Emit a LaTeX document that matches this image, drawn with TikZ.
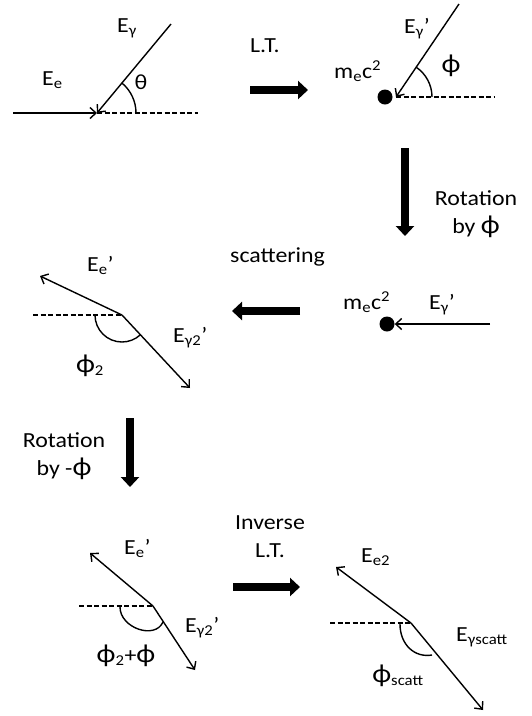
\documentclass[tikz,border=0pt]{standalone}
\usepackage{fontspec}
\setmainfont{Carlito}[FakeStretch=1.11]
\usetikzlibrary{arrows.meta,positioning,angles}
\newcommand{\phisym}{{\fontsize{26}{28}\selectfont ϕ}}

\begin{document}
\begin{tikzpicture}[x=1pt, y=-1pt,
    lbl/.style={font=\fontsize{21.5}{28}\selectfont, inner sep=0pt},
    ray/.style={line width=1.4pt, -{Straight Barb[length=6pt,width=11pt]}},
    guide/.style={line width=1.4pt, dash pattern=on 5pt off 2.5pt},
    angarc/.style={line width=1.4pt},
    bigarrow/.style={line width=8pt, -{Triangle[length=10pt,width=18pt]}},
    particle/.style={circle, fill=black, inner sep=0pt, minimum size=15pt}]
        \useasboundingbox (0,0) rectangle (532,716);
        % incoming electron and photon
        \coordinate (v1) at (97,113);
        \coordinate (e1) at (13,113);
        \coordinate (g1) at (171,24);
        \coordinate (d1) at (198,113);
        \draw[ray] (e1) -- (v1);
        \draw[ray] (g1) -- (v1);
        \draw[guide] (v1) -- (d1);
        \pic[angarc, draw, angle radius=39pt] {angle = d1--v1--g1};
        \node[lbl, anchor=base west] (ee1) at (42,85) {E\textsubscript{e}};
        \node[lbl, anchor=base west] (eg1) at (117,32) {E\textsubscript{γ}};
        \node[lbl] (th1) at (141,82) {θ};
        % L.T.
        \coordinate (lta) at (250,90);
        \coordinate (ltb) at (308,90);
        \draw[bigarrow] (lta) -- (ltb);
        \node[lbl, anchor=base west] (lt) at (250,52) {L.T.};
        % electron rest frame
        \node[particle] (dot2) at (385,97) {};
        \coordinate (v2) at (396,97);
        \coordinate (g2) at (459,4);
        \coordinate (d2) at (495,97);
        \draw[ray] (g2) -- (v2);
        \draw[guide] (v2) -- (d2);
        \pic[angarc, draw, angle radius=36pt] {angle = d2--v2--g2};
        \node[lbl, anchor=base west] (m2) at (334,78) {m\textsubscript{e}c\textsuperscript{2}};
        \node[lbl, anchor=base west] (eg2) at (404,33) {E\textsubscript{γ}’};
        \node[lbl] (ph2) at (451,66) {\phisym};
        % rotation by phi
        \coordinate (rta) at (405,148);
        \coordinate (rtb) at (405,236);
        \draw[bigarrow] (rta) -- (rtb);
        \node[lbl, align=center] (rot1) at (476,214) {Rotation\\by \phisym};
        % head-on
        \node[particle] (dot3) at (387,324) {};
        \coordinate (g3) at (490,324);
        \draw[ray] (g3) -- (dot3);
        \node[lbl, anchor=base west] (m3) at (343,309) {m\textsubscript{e}c\textsuperscript{2}};
        \node[lbl, anchor=base west] (eg3) at (429,309) {E\textsubscript{γ}’};
        % scattering
        \coordinate (sca) at (300,311);
        \coordinate (scb) at (232,311);
        \draw[bigarrow] (sca) -- (scb);
        \node[lbl, anchor=base west] (sc) at (230,262) {scattering};
        % after scattering
        \coordinate (v4) at (122,315);
        \coordinate (d4) at (33,315);
        \coordinate (e4) at (40,276);
        \coordinate (g4) at (190,388);
        \draw[ray] (v4) -- (e4);
        \draw[ray] (v4) -- (g4);
        \draw[guide] (d4) -- (v4);
        \pic[angarc, draw, angle radius=27pt] {angle = d4--v4--g4};
        \node[lbl, anchor=base west] (ee4) at (87,271) {E\textsubscript{e}’};
        \node[lbl, anchor=base west] (eg4) at (173,342) {E\textsubscript{γ2}’};
        \node[lbl] (ph4) at (90,366) {\phisym\textsubscript{2}};
        % rotation by -phi
        \coordinate (rua) at (130,418);
        \coordinate (rub) at (130,487);
        \draw[bigarrow] (rua) -- (rub);
        \node[lbl, align=center] (rot2) at (64,456) {Rotation\\by -\phisym};
        % rotated back
        \coordinate (v5) at (153,606);
        \coordinate (d5) at (79,606);
        \coordinate (e5) at (90,553);
        \coordinate (g5) at (195,670);
        \draw[ray] (v5) -- (e5);
        \draw[ray] (v5) -- (g5);
        \draw[guide] (d5) -- (v5);
        \draw[angarc] (120,607) .. controls (120,628) and (155,640) .. (163,622);
        \node[lbl, anchor=base west] (ee5) at (124,554) {E\textsubscript{e}’};
        \node[lbl, anchor=base west] (eg5) at (185,632) {E\textsubscript{γ2}’};
        \node[lbl] (ph5) at (126,656) {\phisym\textsubscript{2}+\phisym};
        % inverse L.T.
        \coordinate (ila) at (233,587);
        \coordinate (ilb) at (300,587);
        \draw[bigarrow] (ila) -- (ilb);
        \node[lbl, align=center] (ilt) at (270,537) {Inverse\\L.T.};
        % lab frame
        \coordinate (v6) at (411,623);
        \coordinate (d6) at (330,623);
        \coordinate (e6) at (336,567);
        \coordinate (g6) at (483,710);
        \draw[ray] (v6) -- (e6);
        \draw[ray] (v6) -- (g6);
        \draw[guide] (d6) -- (v6);
        \draw[angarc] (400,624) .. controls (400,645) and (415,658) .. (432,655);
        \node[lbl, anchor=base west] (ee6) at (361,562) {E\textsubscript{e2}};
        \node[lbl, anchor=base west] (eg6) at (456,641) {E\textsubscript{γscatt}};
        \node[lbl] (ph6) at (398,676) {\phisym\textsubscript{scatt}};
    \end{tikzpicture}
\end{document}
